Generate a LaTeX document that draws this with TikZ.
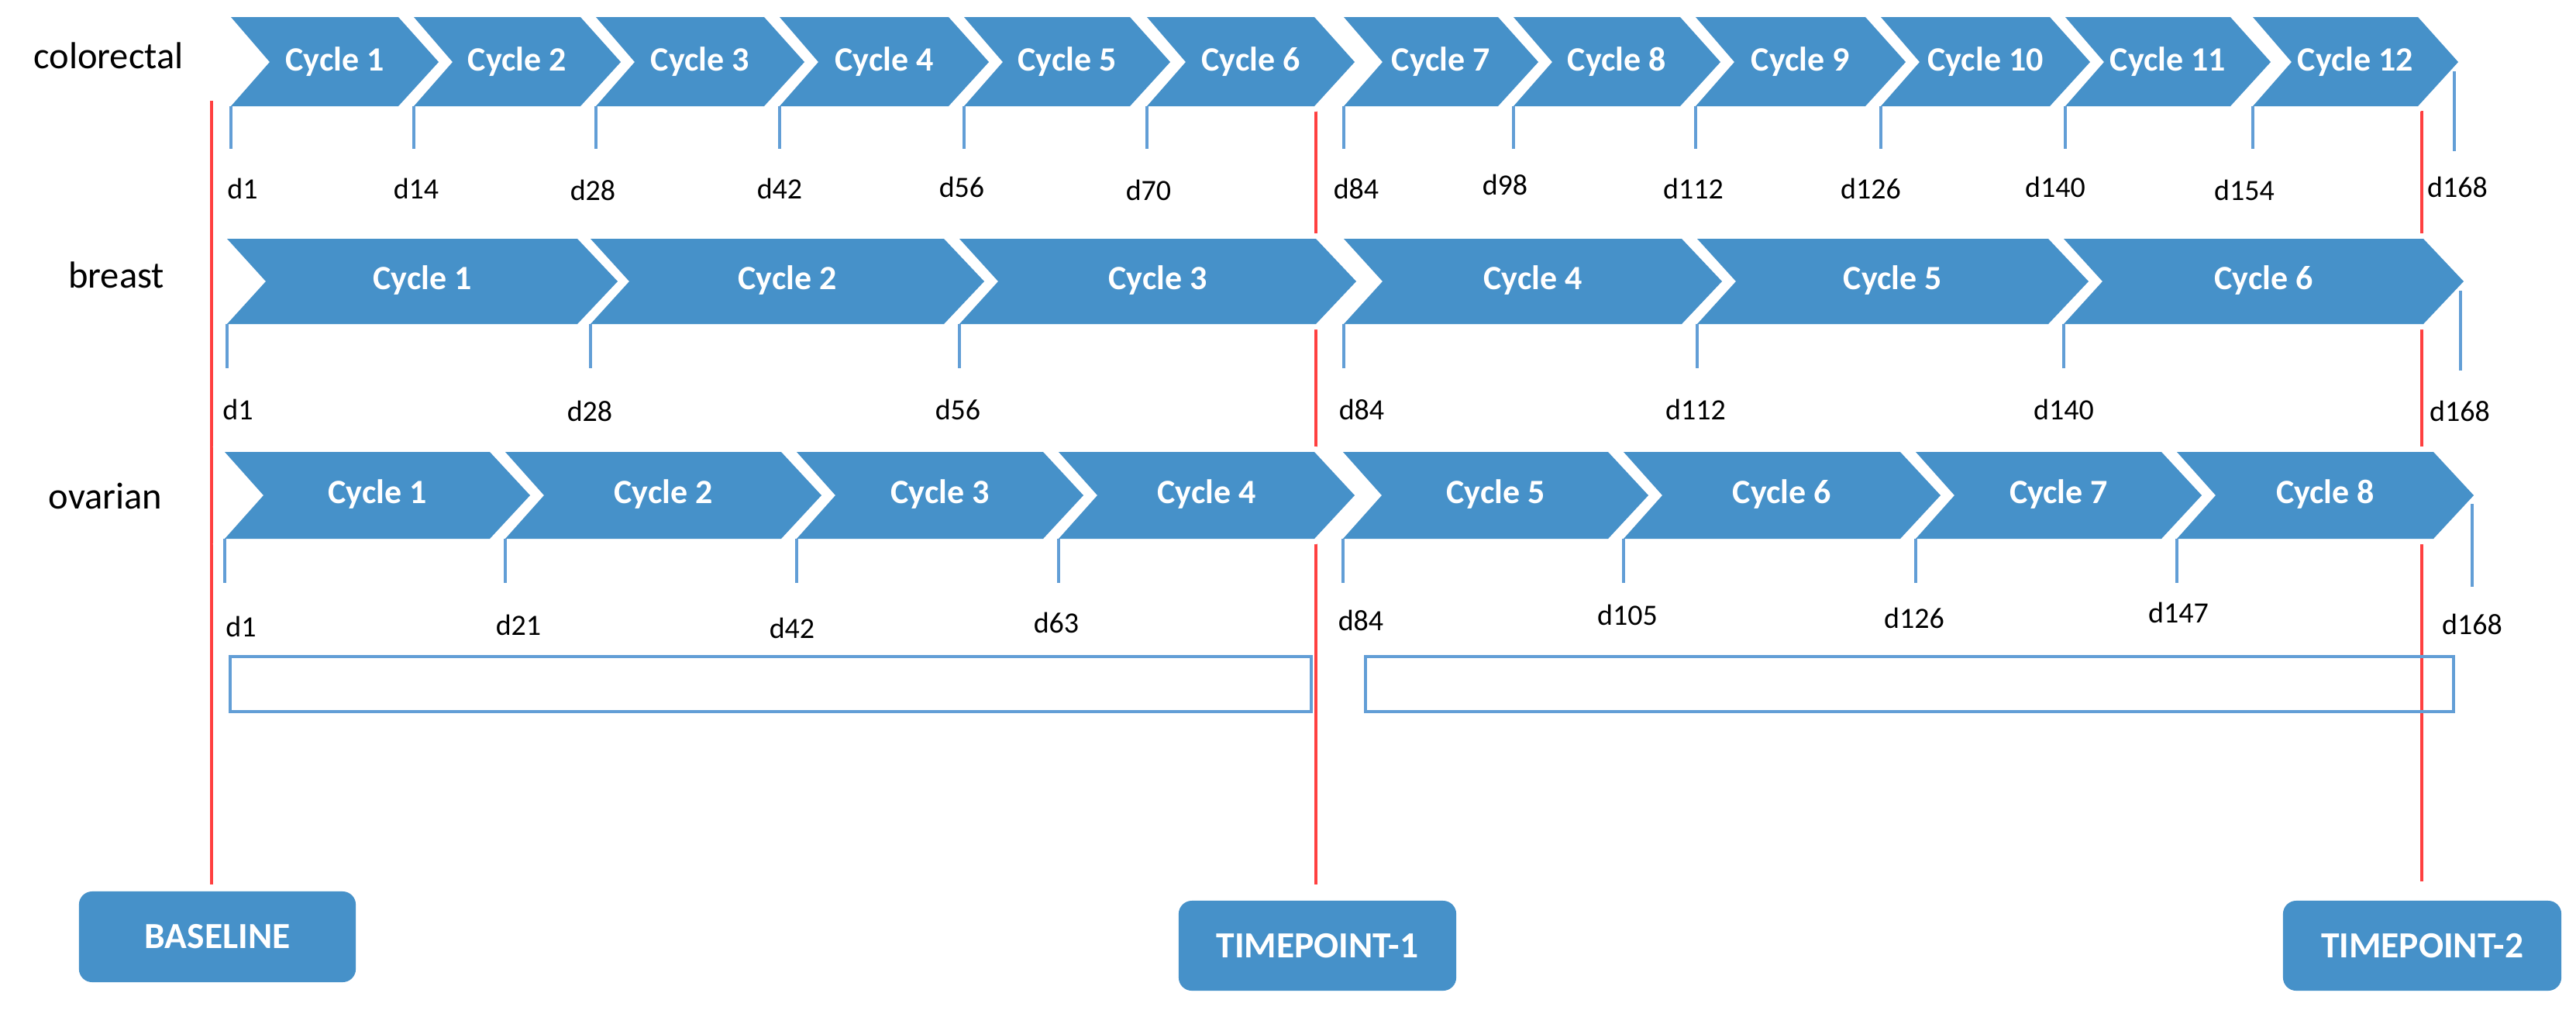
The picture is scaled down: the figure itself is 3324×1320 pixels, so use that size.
\documentclass[tikz,border=0pt]{standalone}
\usepackage{fontspec}
\setmainfont{Carlito}
\definecolor{chev}{RGB}{70,145,201}
\definecolor{tickc}{RGB}{98,158,214}
\definecolor{redl}{RGB}{255,64,64}
\begin{document}
\begin{tikzpicture}[x=0.01cm,y=-0.01cm,
  rowlab/.style={inner sep=0pt,font=\fontsize{13.8}{16}\selectfont},
  cyc/.style={inner sep=0pt,text=white,font=\bfseries\fontsize{12.5}{15}\selectfont},
  dlab/.style={inner sep=0pt,font=\fontsize{10.8}{13}\selectfont},
  tickl/.style={draw=tickc,line width=0.04cm},
  redline/.style={draw=redl,line width=0.045cm},
  halo/.style={draw=white,fill=white,line width=0.14cm,line join=miter},
  tpbox/.style={fill=chev,rounded corners=0.17cm,text=white,inner sep=0pt,
    font=\bfseries\fontsize{13.5}{16}\selectfont},
  openbox/.style={draw=tickc,line width=0.04cm,inner sep=0pt}]
\useasboundingbox (0,0) rectangle (3324,1320);
\fill[white] (0,0) rectangle (3324,1320);

% row labels
\node[rowlab] (lcol) at (140,72) {colorectal};
\node[rowlab] (lbre) at (150,355) {breast};
\node[rowlab] (lova) at (136,640) {ovarian};

% timepoint boxes
\node[tpbox,minimum width=3.57cm,minimum height=1.17cm] (base) at (280.5,1208.5) {BASELINE};
\node[tpbox,minimum width=3.58cm,minimum height=1.16cm] (tp1) at (1700,1220) {TIMEPOINT-1};
\node[tpbox,minimum width=3.59cm,minimum height=1.16cm] (tp2) at (3125.5,1220) {TIMEPOINT-2};

% red lines
\coordinate (r0) at (273,130);
\coordinate (r1) at (1698,137);
\coordinate (r2) at (3125,143);
\draw[redline,shorten >=0.08cm] (r0) -- (r0 |- base.north);
\draw[redline,shorten >=0.2cm] (r1) -- (r1 |- tp1.north);
\draw[redline,shorten >=0.24cm] (r2) -- (r2 |- tp2.north);

% open boxes
\node[openbox,minimum width=13.95cm,minimum height=0.71cm] (ob1) at (994.5,882.5) {};
\node[openbox,minimum width=14.04cm,minimum height=0.71cm] (ob2) at (2464,882.5) {};

% ---------- colorectal ----------
\def\crow{298/514,534/749,769/986,1006/1224,1244/1458,1480/1696,1734/1933,1953/2168,2188/2407,2427/2645,2665/2878,2907/3120}
\foreach \L/\R in \crow {
  \path[halo] (\L,22) -- (\R,22) -- ({\R+52},80) -- (\R,137) -- (\L,137) -- ({\L+50},80) -- cycle;}
\foreach \L/\R [count=\i] in \crow {
  \fill[chev] (\L,22) -- (\R,22) -- ({\R+52},80) -- (\R,137) -- (\L,137) -- ({\L+50},80) -- cycle;
  \node[cyc] (cc\i) at ({(\L+\R)/2+26},80) {Cycle \i};
  \draw[tickl] (\L,137) -- (\L,192);}
\draw[tickl] (3167,92) -- (3167,195);
\foreach \d/\x/\y in {1/313/243,14/537/243,28/765/245,42/1006/243,56/1241/241,70/1482/245,84/1750/243,98/1942/238,112/2185/243,126/2414/243,140/2652/241,154/2896/245,168/3171/241}
  \node[dlab] (cd\d) at (\x,\y) {d\d};

% ---------- breast ----------
\def\brow{293/745,762/1218,1238/1698,1734/2170,2190/2643,2663/3127}
\foreach \L/\R in \brow {
  \path[halo] (\L,308) -- (\R,308) -- ({\R+52},363) -- (\R,418) -- (\L,418) -- ({\L+50},363) -- cycle;}
\foreach \L/\R [count=\i] in \brow {
  \fill[chev] (\L,308) -- (\R,308) -- ({\R+52},363) -- (\R,418) -- (\L,418) -- ({\L+50},363) -- cycle;
  \node[cyc] (bc\i) at ({(\L+\R)/2+26},362) {Cycle \i};
  \draw[tickl] (\L,418) -- (\L,475);}
\draw[tickl] (3175,375) -- (3175,478);
\foreach \d/\x/\y in {1/307/528,28/761/530,56/1236/528,84/1757/528,112/2188/528,140/2663/528,168/3174/530}
  \node[dlab] (bd\d) at (\x,\y) {d\d};

% ---------- ovarian ----------
\def\orow{290/632,652/1008,1028/1346,1366/1696,1733/2075,2095/2452,2472/2789,2809/3140}
\foreach \L/\R in \orow {
  \path[halo] (\L,583) -- (\R,583) -- ({\R+52},639) -- (\R,695) -- (\L,695) -- ({\L+50},639) -- cycle;}
\foreach \L/\R [count=\i] in \orow {
  \fill[chev] (\L,583) -- (\R,583) -- ({\R+52},639) -- (\R,695) -- (\L,695) -- ({\L+50},639) -- cycle;
  \node[cyc] (oc\i) at ({(\L+\R)/2+26},638) {Cycle \i};
  \draw[tickl] (\L,695) -- (\L,752);}
\draw[tickl] (3190,650) -- (3190,757);
\foreach \d/\x/\y in {1/311/808,21/669/806,42/1022/810,63/1363/803,84/1756/800,105/2100/793,126/2470/797,147/2811/790,168/3190/805}
  \node[dlab] (od\d) at (\x,\y) {d\d};
\end{tikzpicture}
\end{document}
